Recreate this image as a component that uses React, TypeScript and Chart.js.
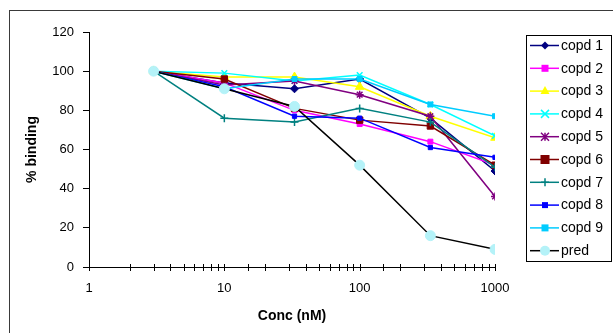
import React, { useEffect, useRef } from 'react';
import { Chart, registerables } from 'chart.js';

Chart.register(...registerables);

// ---- data ----
const concentrations = [3, 10, 33, 100, 333, 1000];
const seriesNames = ['copd 1', 'copd 2', 'copd 3', 'copd 4', 'copd 5', 'copd 6', 'copd 7', 'copd 8', 'copd 9', 'pred'];
const copd1 = [100, 94, 91, 96, 76, 49];
const copd2 = [100, 94, 80, 73, 64, 52];
const copd3 = [100, 97, 97, 92, 77, 66];
const copd4 = [100, 99, 95, 98, 83, 67];
const copd5 = [100, 93, 95, 88, 77, 36];
const copd6 = [100, 96, 81, 75, 72, 52];
const copd7 = [100, 76, 74, 81, 74, 51];
const copd8 = [100, 92, 77, 76, 61, 56];
const copd9 = [100, 91, 96, 96, 83, 77];
const pred = [100, 91, 82, 52, 16, 9];
const seriesValues = [copd1, copd2, copd3, copd4, copd5, copd6, copd7, copd8, copd9, pred];
const yTickValues = [0, 20, 40, 60, 80, 100, 120];
const xTickLabels = [1, 10, 100, 1000];

// ---- styles ----
const lineColors = ['#000080', '#FF00FF', '#FFFF00', '#00FFFF', '#800080', '#800000', '#008080', '#0000FF', '#00CCFF', '#000000'];
const markerColors = ['#000080', '#FF00FF', '#FFFF00', '#00FFFF', '#800080', '#800000', '#008080', '#0000FF', '#00CCFF', '#B4F2F8'];
const markerStyles = ['rectRot', 'rect', 'triangle', 'crossRot', 'star', 'rect', 'cross', 'rect', 'rect', 'circle'];
const markerRadii = [4, 3.5, 5, 4, 4, 4.5, 4, 3, 3.5, 5];

const FONT = "'Liberation Sans', Arial, sans-serif";

function drawMarker(ctx: CanvasRenderingContext2D, style: string, x: number, y: number, r: number, color: string) {
  ctx.save();
  ctx.fillStyle = color;
  ctx.strokeStyle = color;
  ctx.lineWidth = 1.5;
  ctx.beginPath();
  switch (style) {
    case 'circle':
      ctx.arc(x, y, r, 0, Math.PI * 2);
      ctx.fill();
      break;
    case 'rect':
      ctx.fillRect(x - r, y - r, 2 * r, 2 * r);
      break;
    case 'rectRot':
      ctx.moveTo(x, y - r);
      ctx.lineTo(x + r, y);
      ctx.lineTo(x, y + r);
      ctx.lineTo(x - r, y);
      ctx.closePath();
      ctx.fill();
      break;
    case 'triangle':
      ctx.moveTo(x, y - r);
      ctx.lineTo(x + r * 0.9, y + r * 0.6);
      ctx.lineTo(x - r * 0.9, y + r * 0.6);
      ctx.closePath();
      ctx.fill();
      break;
    case 'crossRot':
      ctx.moveTo(x - r, y - r); ctx.lineTo(x + r, y + r);
      ctx.moveTo(x + r, y - r); ctx.lineTo(x - r, y + r);
      ctx.stroke();
      break;
    case 'cross':
      ctx.moveTo(x - r, y); ctx.lineTo(x + r, y);
      ctx.moveTo(x, y - r); ctx.lineTo(x, y + r);
      ctx.stroke();
      break;
    case 'star':
      ctx.moveTo(x - r, y - r); ctx.lineTo(x + r, y + r);
      ctx.moveTo(x + r, y - r); ctx.lineTo(x - r, y + r);
      ctx.moveTo(x, y - r); ctx.lineTo(x, y + r);
      ctx.stroke();
      break;
    default:
      ctx.moveTo(x - r, y); ctx.lineTo(x + r, y);
      ctx.stroke();
  }
  ctx.restore();
}

const xTickMarks = {
  id: 'xTickMarks',
  afterDraw(chart: any) {
    const scale = chart.scales.x;
    const ctx: CanvasRenderingContext2D = chart.ctx;
    const bottom = Math.round(chart.chartArea.bottom);
    ctx.save();
    ctx.strokeStyle = '#000';
    ctx.lineWidth = 1;
    ctx.beginPath();
    for (const t of scale.ticks) {
      const px = Math.round(scale.getPixelForValue(t.value)) + 0.5;
      ctx.moveTo(px, bottom - 3);
      ctx.lineTo(px, bottom + 4);
    }
    ctx.stroke();
    ctx.restore();
  },
};

const boxLegend = {
  id: 'boxLegend',
  afterDraw(chart: any) {
    const ctx: CanvasRenderingContext2D = chart.ctx;
    const bx = 526, by = 35, bw = 85, bh = 226;
    ctx.save();
    ctx.fillStyle = '#fff';
    ctx.fillRect(bx, by, bw, bh);
    ctx.strokeStyle = '#000';
    ctx.lineWidth = 1;
    ctx.strokeRect(bx + 0.5, by + 0.5, bw, bh);
    chart.data.datasets.forEach((ds: any, i: number) => {
      const y = by + 10.5 + i * 22.8;
      ctx.strokeStyle = ds.borderColor;
      ctx.lineWidth = 1.5;
      ctx.beginPath();
      ctx.moveTo(530, y);
      ctx.lineTo(559, y);
      ctx.stroke();
      drawMarker(ctx, markerStyles[i], 545, y, markerRadii[i], markerColors[i]);
      ctx.fillStyle = '#000';
      ctx.font = `14px ${FONT}`;
      ctx.textBaseline = 'middle';
      ctx.textAlign = 'left';
      ctx.fillText(ds.label, 561, y + 0.5);
    });
    ctx.restore();
  },
};

const isPow10 = (v: number) => {
  const l = Math.log10(v);
  return Math.abs(l - Math.round(l)) < 1e-9 && xTickLabels.includes(Math.round(v));
};

export default function App() {
  const ref = useRef<HTMLCanvasElement>(null);

  useEffect(() => {
    const canvas = ref.current;
    if (!canvas) return;
    Chart.defaults.font.family = FONT;
    const datasets = seriesNames.map((name, i) => ({
      label: name,
      data: concentrations.map((x, j) => ({ x, y: seriesValues[i][j] })),
      order: seriesNames.length - 1 - i,
      borderColor: lineColors[i],
      backgroundColor: markerColors[i],
      borderWidth: 1.5,
      tension: 0,
      fill: false,
      pointStyle: markerStyles[i] as any,
      pointRadius: markerRadii[i],
      pointBackgroundColor: markerColors[i],
      pointBorderColor: markerColors[i],
      pointBorderWidth: markerStyles[i].startsWith('cross') || markerStyles[i] === 'star' ? 1.5 : 1,
    }));
    const chart = new Chart(canvas, {
      type: 'line',
      data: { datasets },
      options: {
        responsive: false,
        animation: false,
        layout: { padding: { left: 0, top: 32, right: 118, bottom: 0 } },
        plugins: { legend: { display: false }, tooltip: { enabled: false } },
        scales: {
          x: {
            type: 'logarithmic',
            min: 1,
            max: 1000,
            grid: { display: true, drawOnChartArea: false, drawTicks: false },
            border: { display: true, color: '#000', width: 1 },
            ticks: {
              autoSkip: false,
              maxRotation: 0,
              minRotation: 0,
              padding: 14,
              color: '#000',
              font: { size: 13 },
              callback: (v: any) => (isPow10(Number(v)) ? String(Math.round(Number(v))) : ''),
            },
            title: {
              display: true,
              text: 'Conc (nM)',
              color: '#000',
              font: { size: 14, weight: 'bold' },
              padding: { top: 0, bottom: 8 },
            },
            afterFit: (s: any) => { s.height = 66; },
          } as any,
          y: {
            min: 0,
            max: 120,
            afterBuildTicks: (s: any) => { s.ticks = yTickValues.map((v) => ({ value: v })); },
            ticks: { padding: 9, color: '#000', font: { size: 13 } },
            grid: { display: true, drawOnChartArea: false, drawTicks: true, tickLength: 6, color: '#000' },
            border: { display: true, color: '#000', width: 1 },
            title: {
              display: true,
              text: '% binding',
              color: '#000',
              font: { size: 14, weight: 'bold' },
              padding: { top: 24, bottom: 0 },
            },
            afterFit: (s: any) => { s.width = 89; },
          } as any,
        },
      },
      plugins: [xTickMarks, boxLegend],
    });
    return () => chart.destroy();
  }, []);

  return (
    <div style={{ position: 'fixed', left: 0, top: 0, width: 613, height: 333, overflow: 'hidden', background: '#fff' }}>
      <div style={{ position: 'absolute', left: 9, top: 10, width: 700, height: 400, border: '1px solid #3a3a3a' }} />
      <canvas ref={ref} width={613} height={333} style={{ position: 'absolute', left: 0, top: 0, width: 613, height: 333 }} />
    </div>
  );
}
